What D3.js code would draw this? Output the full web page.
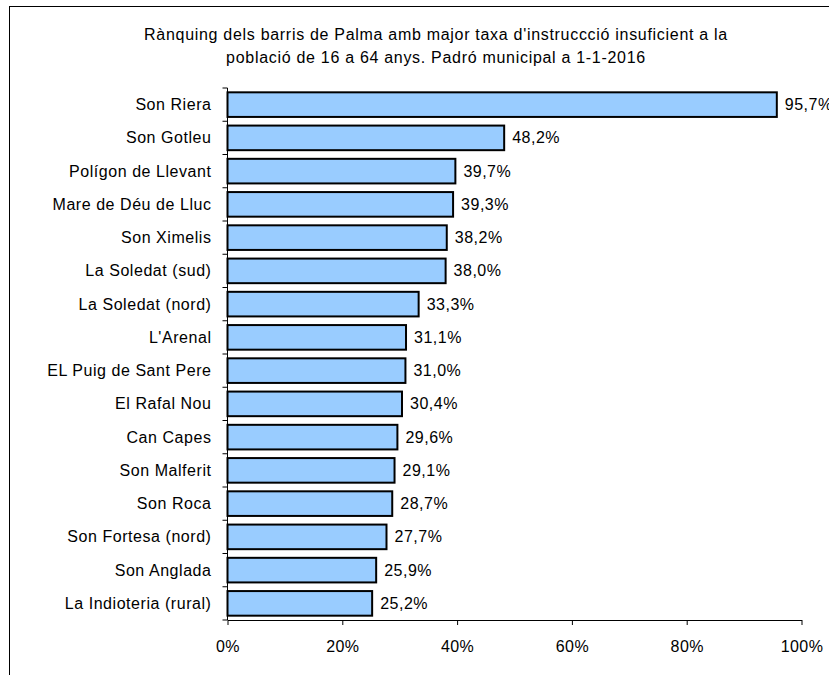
<!DOCTYPE html>
<html>
<head>
<meta charset="utf-8">
<script src="https://cdn.jsdelivr.net/npm/d3@7"></script>
<style>
  body { margin: 0; background: #fff; }
  svg text { font-family: "Liberation Sans", Arial, sans-serif; fill: #000; }
</style>
</head>
<body>
<div id="chart"></div>
<script>
// data
let barris = ["Son Riera", "Son Gotleu", "Polígon de Llevant", "Mare de Déu de Lluc",
  "Son Ximelis", "La Soledat (sud)", "La Soledat (nord)", "L'Arenal",
  "EL Puig de Sant Pere", "El Rafal Nou", "Can Capes", "Son Malferit",
  "Son Roca", "Son Fortesa (nord)", "Son Anglada", "La Indioteria (rural)"];
let taxa = [95.7, 48.2, 39.7, 39.3, 38.2, 38.0, 33.3, 31.1, 31.0, 30.4, 29.6, 29.1, 28.7, 27.7, 25.9, 25.2];
let xTicks = [0, 20, 40, 60, 80, 100];
let titol = ["Rànquing dels barris de Palma amb major taxa d'instruccció insuficient a la",
  "població de 16 a 64 anys. Padró municipal a 1-1-2016"];

let svg_width = 829;
let svg_height = 675;
let plot = { left: 227.5, right: 801.5, top: 88, bottom: 620 };

let svg = d3.select("#chart")
  .append("svg")
  .attr("width", svg_width)
  .attr("height", svg_height);

// outer frame (runs off the right and bottom edges)
svg.append("rect")
  .attr("x", 9.5).attr("y", 6.5)
  .attr("width", 900).attr("height", 900)
  .attr("fill", "none")
  .attr("stroke", "#000")
  .attr("stroke-width", 1);

svg.selectAll(".titol")
  .data(titol)
  .enter()
  .append("text")
  .attr("class", "titol")
  .attr("x", 436)
  .attr("y", (d, i) => 40 + i * 23)
  .attr("text-anchor", "middle")
  .style("font-size", "16px")
  .style("letter-spacing", "0.7px")
  .text(d => d);

let x_scale = d3.scaleLinear()
  .domain([0, 100])
  .range([plot.left, plot.right]);

let y_scale = d3.scaleBand()
  .domain(barris)
  .range([plot.top, plot.bottom])
  .paddingInner(0.26)
  .paddingOuter(0.13);

// bars
svg.selectAll(".bar")
  .data(taxa)
  .enter()
  .append("rect")
  .attr("class", "bar")
  .attr("x", x_scale(0))
  .attr("y", (d, i) => y_scale(barris[i]))
  .attr("width", d => x_scale(d) - x_scale(0))
  .attr("height", y_scale.bandwidth())
  .attr("fill", "#99ccff")
  .attr("stroke", "#000")
  .attr("stroke-width", 2);

// value labels
svg.selectAll(".val")
  .data(taxa)
  .enter()
  .append("text")
  .attr("class", "val")
  .attr("x", d => x_scale(d) + 8)
  .attr("y", (d, i) => y_scale(barris[i]) + y_scale.bandwidth() / 2)
  .attr("dy", "0.35em")
  .style("font-size", "16px")
  .style("letter-spacing", "0.5px")
  .text(d => d.toFixed(1).replace(".", ",") + "%");

// y axis: line, tick marks between categories, labels
let step = (plot.bottom - plot.top) / barris.length;
let yg = svg.append("g");
yg.append("line")
  .attr("x1", plot.left).attr("x2", plot.left)
  .attr("y1", plot.top).attr("y2", plot.bottom)
  .attr("stroke", "#000");
yg.selectAll(".ytick")
  .data(d3.range(barris.length + 1))
  .enter()
  .append("line")
  .attr("x1", plot.left - 5).attr("x2", plot.left)
  .attr("y1", d => plot.top + d * step)
  .attr("y2", d => plot.top + d * step)
  .attr("stroke", "#000");
yg.selectAll(".ylab")
  .data(barris)
  .enter()
  .append("text")
  .attr("x", plot.left - 16)
  .attr("y", d => y_scale(d) + y_scale.bandwidth() / 2)
  .attr("dy", "0.35em")
  .attr("text-anchor", "end")
  .style("font-size", "16px")
  .style("letter-spacing", "0.55px")
  .text(d => d);

// x axis
let xAxis = d3.axisBottom(x_scale)
  .tickValues(xTicks)
  .tickSize(5)
  .tickSizeOuter(0)
  .tickPadding(16)
  .tickFormat(d => d + "%");
let xg = svg.append("g")
  .attr("transform", "translate(0," + plot.bottom + ")")
  .call(xAxis);
xg.select(".domain").attr("stroke", "#000");
xg.selectAll("line").attr("stroke", "#000");
xg.selectAll("text")
  .style("font-size", "16px")
  .style("letter-spacing", "0.4px")
  .style("font-family", "Liberation Sans, Arial, sans-serif");
</script>
</body>
</html>
